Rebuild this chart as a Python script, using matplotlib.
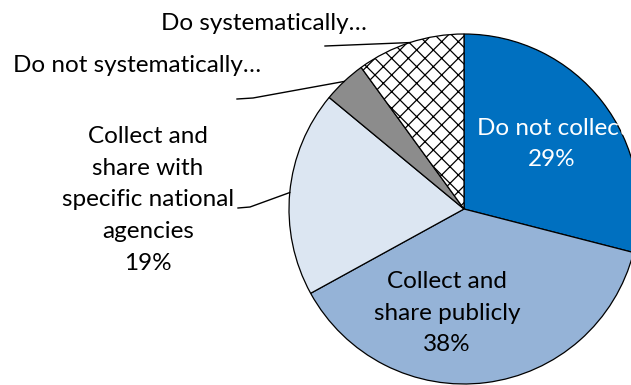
import numpy as np
import matplotlib
matplotlib.use("Agg")
import matplotlib.pyplot as plt

# Datos
categorias = ["Do not collect", "Collect and share publicly",
              "Collect and share with specific national agencies",
              "Do not systematically…", "Do systematically…"]
valores = [29, 38, 19, 4, 10]
colores = ["#0070C0", "#95B3D7", "#DCE6F2", "#8C8C8C", "white"]

plt.rcParams['font.family'] = ['Lato', 'DejaVu Sans']
plt.rcParams['hatch.linewidth'] = 0.9

W, H = 631, 385
fig = plt.figure(figsize=(W / 100, H / 100), dpi=100)
ax = fig.add_axes([0, 0, 1, 1])

# centro y radio del pastel en pixeles
cx, cy, r = 464, 209, 175

wedges, _ = ax.pie(valores, colors=colores, startangle=90, counterclock=False,
                   wedgeprops=dict(edgecolor="black", linewidth=0.9))
wedges[4].set_hatch("xx")

ax.set_aspect("equal")
ax.set_xlim(-cx / r, (W - cx) / r)
ax.set_ylim(-(H - cy) / r, cy / r)
ax.axis("off")


def px(x, y):
    # pixeles -> coordenadas de datos
    return (x - cx) / r, (cy - y) / r


def borde(w):
    ang = np.deg2rad((w.theta1 + w.theta2) / 2)
    return np.cos(ang), np.sin(ang)


fs = 17.5
ls = 1.62
# Etiquetas dentro del pastel
ax.text(*px(552, 144), "Do not collect\n29%", color="white", fontsize=fs,
        ha="center", va="center", linespacing=ls)
ax.text(*px(447, 313), "Collect and\nshare publicly\n38%", color="black",
        fontsize=fs, ha="center", va="center", linespacing=ls)

# Etiquetas fuera del pastel
ax.text(*px(148, 200), "Collect and\nshare with\nspecific national\nagencies\n19%",
        fontsize=fs, ha="center", va="center", linespacing=ls)
ax.text(*px(137, 66), "Do not systematically…", fontsize=fs, ha="center", va="center")
ax.text(*px(264, 24), "Do systematically…", fontsize=fs, ha="center", va="center")

# Líneas guía
guias = [
    (wedges[2], [(238, 208), (250, 207)]),
    (wedges[3], [(237, 99), (253, 98)]),
    (wedges[4], [(325, 46)]),
]
for w, pts in guias:
    xs = [px(*p)[0] for p in pts] + [borde(w)[0]]
    ys = [px(*p)[1] for p in pts] + [borde(w)[1]]
    ax.plot(xs, ys, color="black", linewidth=1.0)

fig.savefig("out.png", dpi=100)
